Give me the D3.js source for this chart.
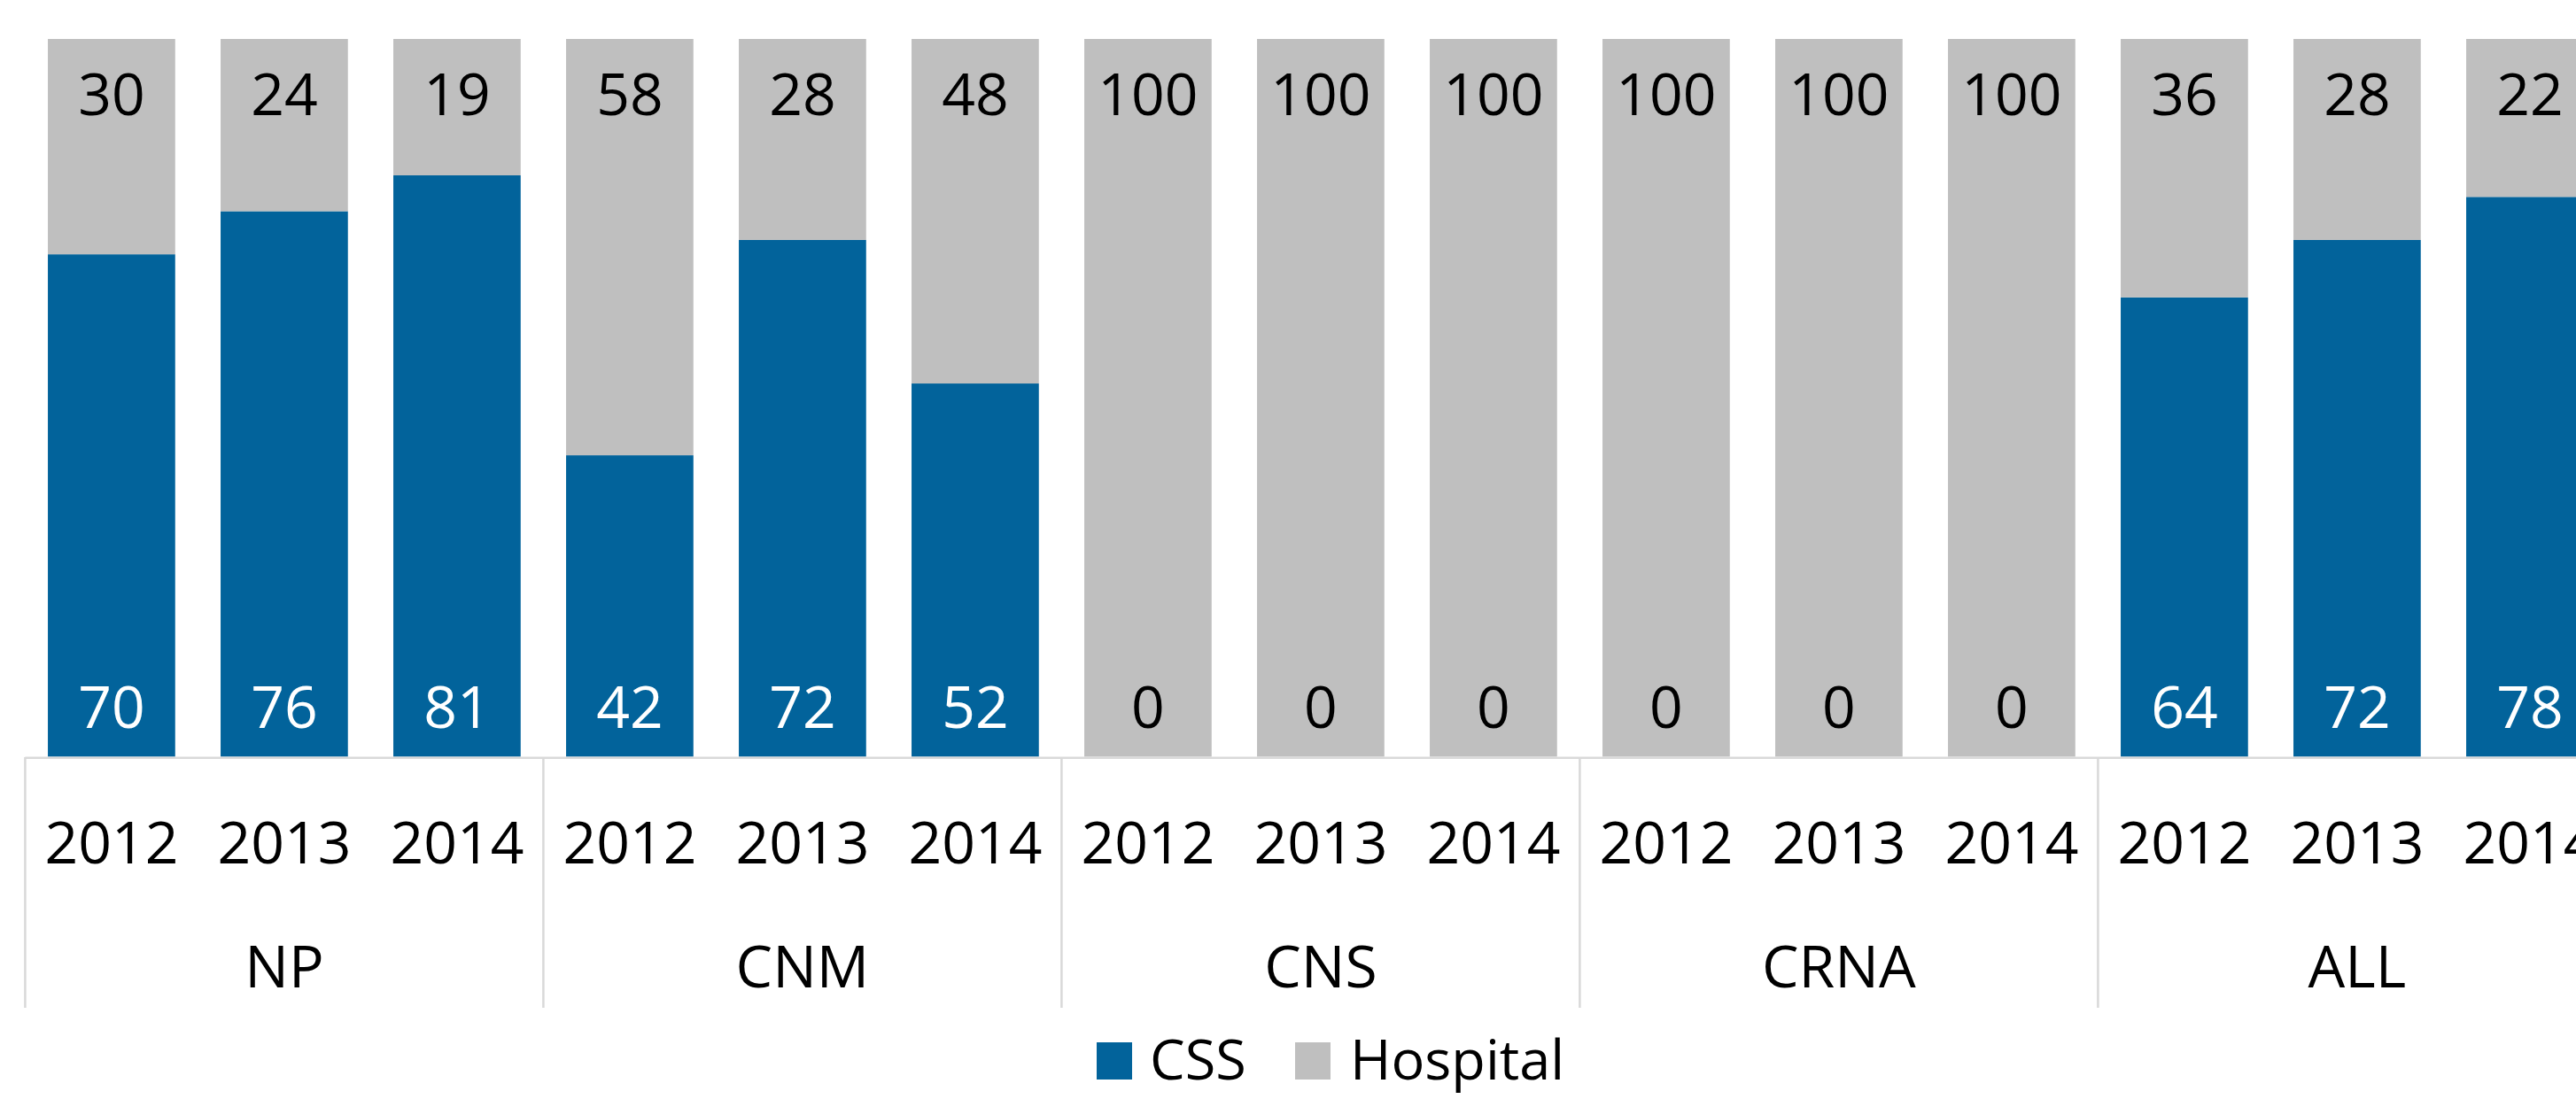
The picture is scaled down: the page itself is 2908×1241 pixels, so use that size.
<!DOCTYPE html>
<html><head><meta charset="utf-8">
<script src="https://cdn.jsdelivr.net/npm/d3@7"></script>
<style>html,body{margin:0;padding:0;background:#fff;overflow:hidden}</style>
</head><body>
<svg id="chart" width="2908" height="1241"></svg>
<script>
const groups = ["NP", "CNM", "CNS", "CRNA", "ALL"];
const years = ["2012", "2013", "2014"];
const cssValues = [70, 76, 81, 42, 72, 52, 0, 0, 0, 0, 0, 0, 64, 72, 78];
const hospitalValues = [30, 24, 19, 58, 28, 48, 100, 100, 100, 100, 100, 100, 36, 28, 22];
const seriesNames = ["CSS", "Hospital"];
const seriesColors = ["#02639B", "#BFBFBF"];

const W = 2908, H = 1241;
const svg = d3.select("#chart");
const font = "'Open Sans', sans-serif";

const cats = [];
groups.forEach(g => years.forEach(y => cats.push(g + "|" + y)));
const rows = cats.map((c, i) => ({key: c, group: c.split("|")[0], year: c.split("|")[1], CSS: cssValues[i], Hospital: hospitalValues[i]}));

const step = 195.0, x0 = 28.4;
const x = d3.scaleBand().domain(cats).range([x0, x0 + 15 * step]).paddingInner(0.263).paddingOuter(0.1315);
const y = d3.scaleLinear().domain([0, 100]).range([854.5, 44]);

const stack = d3.stack().keys(seriesNames)(rows);
const color = d3.scaleOrdinal().domain(seriesNames).range(seriesColors);

svg.append("g").selectAll("g").data(stack).join("g")
  .attr("fill", d => color(d.key))
  .selectAll("rect").data(d => d).join("rect")
  .attr("x", d => x(d.data.key))
  .attr("width", x.bandwidth())
  .attr("y", d => y(d[1]))
  .attr("height", d => y(d[0]) - y(d[1]));

// axis lines
const axisG = svg.append("g").attr("stroke", "#D9D9D9").attr("stroke-width", 2.5);
axisG.append("line").attr("x1", x0).attr("x2", W).attr("y1", 855.8).attr("y2", 855.8);
const gw = 3 * step;
groups.forEach((g, i) => {
  axisG.append("line").attr("x1", x0 + i * gw).attr("x2", x0 + i * gw).attr("y1", 855).attr("y2", 1138);
});

// value labels
const lbl = svg.append("g").attr("font-family", font).attr("font-size", 66).attr("text-anchor", "middle");
rows.forEach(r => {
  const cx = x(r.key) + x.bandwidth() / 2;
  lbl.append("text").attr("x", cx).attr("y", y(100) + 86).attr("fill", "#000").text(r.Hospital);
  lbl.append("text").attr("x", cx).attr("y", y(0) - 33).attr("fill", r.CSS > 0 ? "#fff" : "#000").text(r.CSS);
});

// year labels
const ax = svg.append("g").attr("font-family", font).attr("font-size", 66).attr("text-anchor", "middle").attr("fill", "#000");
rows.forEach(r => {
  ax.append("text").attr("x", x(r.key) + x.bandwidth() / 2).attr("y", 975).text(r.year);
});
groups.forEach((g, i) => {
  ax.append("text").attr("x", x0 + i * gw + gw / 2).attr("y", 1115).text(g);
});

// legend
const leg = svg.append("g").attr("font-family", font).attr("font-size", 63);
const legendItems = [{name: seriesNames[0], sx: 1238, tx: 1298}, {name: seriesNames[1], sx: 1462, tx: 1524}];
legendItems.forEach(it => {
  leg.append("rect").attr("x", it.sx).attr("y", 1177).attr("width", 40).attr("height", 42).attr("fill", color(it.name));
  leg.append("text").attr("x", it.tx).attr("y", 1219).attr("fill", "#000").text(it.name);
});
</script>
</body></html>
